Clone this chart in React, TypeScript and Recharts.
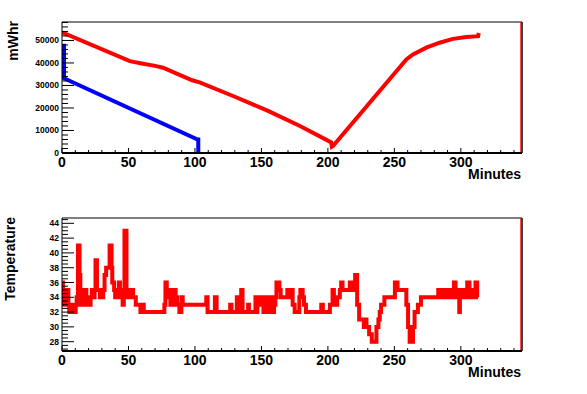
import React from "react";
import { LineChart, Line, XAxis, YAxis, ReferenceLine } from "recharts";

// battery energy (minutes, mWhr)
const redMinutes = [0, 51, 60, 70, 76, 88, 98, 104, 130, 155, 179, 202.5, 203, 204, 259, 264, 274, 284, 294, 304, 313, 313.5];
const redEnergy = [53600, 40800, 39800, 38700, 37900, 34800, 32300, 31300, 25000, 18700, 12000, 4700, 2800, 3200, 41600, 43800, 46800, 49000, 50700, 51500, 51900, 53300];
const blueMinutes = [1.5, 1.5, 102, 102.5, 102.5];
const blueEnergy = [48500, 33200, 6000, 6000, 0];

// temperature readings, step-wise (minute, degrees)
const tempReadings: [number, number][] = [
  [0, 36], [0.7, 33], [1.2, 35], [1.8, 33], [2.3, 35], [3, 34], [3.6, 33], [4.2, 35], [4.8, 33],
  [5.5, 32], [6.5, 33], [7.2, 32], [8.5, 33], [9.2, 32], [10.3, 33], [11, 34], [12, 41], [13.2, 37],
  [13.8, 33], [14.5, 35], [15.3, 33], [16, 35], [16.8, 33], [17.5, 35], [18.3, 34], [19, 33], [20, 34],
  [20.8, 33], [21.5, 34], [22.5, 35], [23.5, 34], [24.5, 35], [25.2, 39], [26.3, 35], [28.5, 34],
  [31, 35], [32, 37], [33.2, 38], [35.8, 41], [37.3, 38], [37.8, 36], [39.2, 35], [40, 34], [41, 35],
  [42, 34], [42.8, 36], [43.6, 35], [44.3, 34], [45, 35], [45.6, 33], [46.5, 35], [47, 43], [48.5, 34],
  [49.3, 35], [50.5, 34], [51.5, 35], [53.5, 34], [55.5, 33], [59, 32], [60.5, 33], [61.5, 32],
  [77, 33], [77.8, 36], [78.8, 35], [79.8, 34], [80.6, 35], [81.5, 33], [82.5, 34], [83.5, 33],
  [84.5, 35], [85.5, 34], [86.5, 33], [88.3, 32], [89.8, 34], [90.8, 33], [108.5, 34], [109.5, 32],
  [115, 34], [116.3, 32], [126.5, 33], [127.5, 32], [131.5, 34], [132.3, 33], [133.5, 32], [134.8, 35],
  [135.8, 32], [140, 33], [140.6, 32], [145.5, 34], [146.5, 32], [147, 34], [148, 33], [148.5, 34],
  [150.5, 33], [151.5, 32], [152.5, 34], [153.3, 32], [155.5, 33], [156.3, 34], [157.5, 32], [159.5, 33],
  [160.5, 34], [161.3, 36], [163.5, 35], [164.5, 34], [169.5, 35], [170.5, 34], [171.3, 35], [173.5, 33],
  [175, 32], [178.5, 34], [179.3, 35], [181, 34], [182, 33], [183.5, 32], [195, 33], [196.2, 32],
  [201.5, 33], [203.5, 35], [204.5, 34], [205.5, 33], [207, 34], [209, 35], [210, 36], [211, 35],
  [216.5, 36], [218.5, 35], [220.5, 37], [222, 33], [223.5, 31], [227, 30], [228, 31], [229, 30],
  [231, 29], [233, 28], [236.5, 30], [238, 31], [239, 32], [240, 33], [242.5, 34], [250.4, 36],
  [252.4, 35], [259, 33], [260.3, 30], [261.5, 28], [264, 30], [265.2, 32], [267.7, 33], [270, 34],
  [283, 35], [284, 34], [285, 35], [285.8, 34], [286.5, 35], [287.5, 34], [288.3, 35], [289, 34],
  [290, 35], [291, 34], [291.8, 35], [292.5, 34], [293.3, 35], [294, 34], [294.8, 36], [296, 34],
  [297, 35], [298, 34], [298.8, 32], [299.3, 34], [300, 35], [301, 34], [302.5, 35], [303.5, 34],
  [304.8, 36], [306.5, 34], [307.5, 35], [308.5, 34], [311, 36], [312.3, 34], [313, 34],
];

const xMajor = [0, 50, 100, 150, 200, 250, 300];
const xTicks = Array.from({ length: 35 }, (_, i) => i * 10);
const energyLabels = [0, 10000, 20000, 30000, 40000, 50000];
const energyTicks = Array.from({ length: 30 }, (_, i) => i * 2000);
const tempLabels = [28, 30, 32, 34, 36, 38, 40, 42, 44];
const tempTicks = Array.from({ length: 36 }, (_, i) => 27 + i * 0.5);

const redData = redMinutes.map((t, i) => ({ t, v: redEnergy[i] }));
const blueData = blueMinutes.map((t, i) => ({ t, v: blueEnergy[i] }));
const tempData = tempReadings.map(([t, v]) => ({ t, v }));

const FONT = "'Liberation Sans', Arial, Helvetica, sans-serif";
const X_MAX = 346;

const XTick = (props: any) => {
  const { x, y, payload } = props;
  const major = xMajor.includes(payload.value);
  return (
    <g>
      <line x1={x} y1={y} x2={x} y2={y - (major ? 5 : 3)} stroke="#000" strokeWidth={1} />
      {major && (
        <text x={x} y={y + 14} textAnchor="middle" fontFamily={FONT} fontWeight="bold" fontSize={14} fill="#000">
          {payload.value}
        </text>
      )}
    </g>
  );
};

const makeYTick = (labels: number[]) => (props: any) => {
  const { x, y, payload } = props;
  const major = labels.includes(payload.value);
  return (
    <g>
      <line x1={x} y1={y} x2={x + (major ? 12 : 6)} y2={y} stroke="#000" strokeWidth={1} />
      {major && (
        <text x={x - 3} y={y + 3} textAnchor="end" fontFamily={FONT} fontWeight="bold" fontSize={8.5} fill="#000">
          {payload.value}
        </text>
      )}
    </g>
  );
};

const XTitle = (props: any) => {
  const vb = props.viewBox;
  return (
    <text x={vb.x + vb.width - 1} y={vb.y + 26} textAnchor="end" fontFamily={FONT} fontWeight="bold" fontSize={14} fill="#000">
      Minutes
    </text>
  );
};

const yTitle = (text: string, shift: number) => (props: any) => {
  const vb = props.viewBox;
  const x = vb.x - shift;
  const y = vb.y - 1;
  return (
    <text x={x} y={y} transform={`rotate(-90, ${x}, ${y})`} textAnchor="end" fontFamily={FONT} fontWeight="bold" fontSize={14} fill="#000">
      {text}
    </text>
  );
};

function Pane({ top, margin, yDomain, yTicks, yLabels, title, titleShift, children }: any) {
  return (
    <div style={{ position: "absolute", left: 0, top, width: 587, height: 197 }}>
      <LineChart width={587} height={197} margin={margin}>
        <XAxis
          dataKey="t"
          type="number"
          domain={[0, X_MAX]}
          ticks={xTicks}
          interval={0}
          allowDataOverflow
          height={30}
          tickSize={0}
          tickMargin={0}
          tickLine={false}
          tick={XTick}
          axisLine={{ stroke: "#000", strokeWidth: 2 }}
          label={XTitle}
        />
        <YAxis
          type="number"
          domain={yDomain}
          ticks={yTicks}
          interval={0}
          allowDataOverflow
          width={40}
          tickSize={0}
          tickMargin={0}
          tickLine={false}
          tick={makeYTick(yLabels)}
          axisLine={{ stroke: "#000" }}
          label={yTitle(title, titleShift)}
        />
        {/* frame: top and right edges */}
        <ReferenceLine y={yDomain[1]} stroke="#000" strokeWidth={1} />
        <ReferenceLine x={X_MAX} stroke="#000" strokeWidth={1.5} />
        <ReferenceLine x={345.1} stroke="#ff0000" strokeWidth={1} />
        {children}
      </LineChart>
    </div>
  );
}

export default function App() {
  return (
    <div style={{ position: "absolute", left: 0, top: 0, width: 587, height: 394, background: "#fff" }}>
      <Pane
        top={0}
        margin={{ top: 22, right: 65, bottom: 14, left: 22 }}
        yDomain={[0, 58200]}
        yTicks={energyTicks}
        yLabels={energyLabels}
        title="mWhr"
        titleShift={4}
      >
        <Line data={redData} dataKey="v" type="linear" stroke="#ff0000" strokeWidth={4} dot={false} isAnimationActive={false} />
        <Line data={blueData} dataKey="v" type="linear" stroke="#0000ff" strokeWidth={4} dot={false} isAnimationActive={false} />
      </Pane>
      <Pane
        top={197}
        margin={{ top: 21, right: 65, bottom: 13, left: 22 }}
        yDomain={[26.74, 44.72]}
        yTicks={tempTicks}
        yLabels={tempLabels}
        title="Temperature"
        titleShift={7.5}
      >
        <Line data={tempData} dataKey="v" type="stepAfter" stroke="#ff0000" strokeWidth={4} dot={false} isAnimationActive={false} />
      </Pane>
    </div>
  );
}
